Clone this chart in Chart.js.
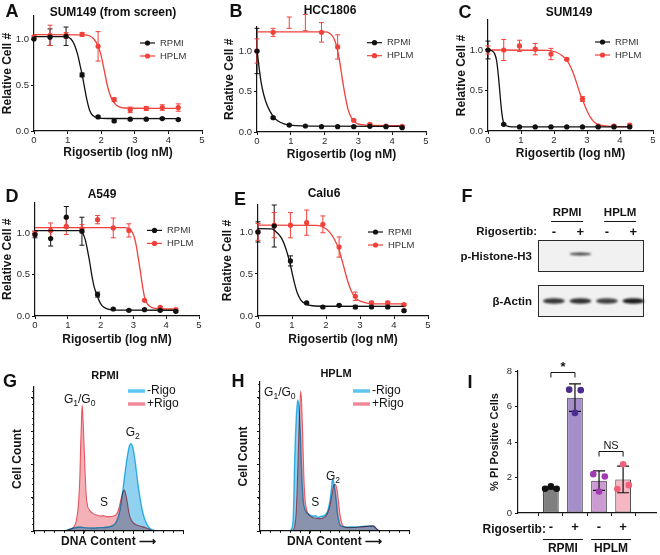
<!DOCTYPE html>
<html>
<head>
<meta charset="utf-8">
<script src="https://cdn.jsdelivr.net/npm/chart.js@4.4.1/dist/chart.umd.min.js"></script>
<style>
  html, body { margin: 0; padding: 0; background: #fff; }
  #fig { position: relative; width: 660px; height: 555px; overflow: hidden; font-family: 'Liberation Sans', Arial, Helvetica, sans-serif; }
  #fig canvas { position: absolute; }
  .lbl { position: absolute; white-space: nowrap; line-height: 1; font-weight: bold; color: #111; transform: translate(-50%, -50%); }
</style>
</head>
<body>
<div id="fig"></div>
<script>
// doses, 3-fold dilution series (log10 nM)
var doseLog = [0, 0.477, 0.954, 1.431, 1.908, 2.386, 2.863, 3.34, 3.817, 4.294];

// A  SUM149 (from screen)
var rpmiA = [1.0, 1.02, 1.03, 0.61, 0.153, 0.11, 0.128, 0.128, 0.135, 0.124];
var rpmiA_sd = [0, 0.09, 0.1, 0.02, 0.01, 0.01, 0.01, 0.01, 0.01, 0.01];
var hplmA = [1.02, 1.04, 1.04, 1.05, 0.92, 0.34, 0.23, 0.245, 0.255, 0.255];
var hplmA_sd = [0.02, 0.11, 0.03, 0.02, 0.16, 0.02, 0.03, 0.02, 0.03, 0.04];
var fitA_rpmi = [[0, 1.025], [0.95, 1.025], [1.1, 1.0], [1.2, 0.94], [1.3, 0.83], [1.38, 0.7], [1.44, 0.6], [1.5, 0.48], [1.58, 0.33], [1.66, 0.22], [1.76, 0.165], [1.9, 0.143], [2.2, 0.136], [4.3, 0.135]];
var fitA_hplm = [[0, 1.047], [1.5, 1.045], [1.65, 1.035], [1.78, 1.0], [1.9, 0.93], [2.0, 0.82], [2.1, 0.64], [2.2, 0.47], [2.3, 0.36], [2.4, 0.3], [2.52, 0.265], [2.7, 0.25], [4.3, 0.245]];

// B  HCC1806
var rpmiB = [1.0, 0.177, 0.086, 0.074, 0.066, 0.066, 0.066, 0.07, 0.066, 0.053];
var rpmiB_sd = [0.28, 0.01, 0.01, 0.005, 0.005, 0.005, 0.005, 0.005, 0.005, 0.005];
var hplmB = [1.0, 1.23, 1.35, 1.35, 1.23, 1.05, 0.144, 0.095, 0.074, 0.07];
var hplmB_sd = [0.15, 0.05, 0.07, 0.1, 0.12, 0.15, 0.01, 0.01, 0.01, 0.01];
var fitB_rpmi = [[0, 1.02], [0.06, 0.8], [0.12, 0.62], [0.2, 0.46], [0.3, 0.33], [0.4, 0.245], [0.5, 0.18], [0.62, 0.135], [0.8, 0.1], [1.0, 0.084], [1.4, 0.075], [2.0, 0.072], [4.3, 0.07]];
var fitB_hplm = [[0, 1.235], [2.0, 1.235], [2.15, 1.22], [2.27, 1.16], [2.36, 1.05], [2.45, 0.86], [2.53, 0.64], [2.62, 0.42], [2.7, 0.27], [2.8, 0.17], [2.92, 0.115], [3.1, 0.09], [3.4, 0.08], [4.3, 0.078]];

// C  SUM149
var rpmiC = [1.0, 0.082, 0.05, 0.05, 0.05, 0.05, 0.05, 0.05, 0.05, 0.05];
var rpmiC_sd = [0.11, 0.01, 0.005, 0.005, 0.005, 0.005, 0.005, 0.005, 0.005, 0.005];
var hplmC = [1.0, 1.0, 1.05, 1.01, 0.95, 0.885, 0.395, 0.06, 0.062, 0.074];
var hplmC_sd = [0.05, 0.13, 0.07, 0.07, 0.07, 0.015, 0.03, 0.01, 0.01, 0.01];
var fitC_rpmi = [[0, 1.0], [0.12, 0.99], [0.2, 0.955], [0.26, 0.87], [0.3, 0.74], [0.34, 0.57], [0.38, 0.38], [0.42, 0.22], [0.46, 0.12], [0.52, 0.075], [0.65, 0.055], [1.0, 0.05], [4.3, 0.05]];
var fitC_hplm = [[0, 1.0], [1.8, 0.995], [2.05, 0.975], [2.25, 0.93], [2.4, 0.87], [2.55, 0.75], [2.68, 0.6], [2.8, 0.45], [2.9, 0.35], [3.0, 0.25], [3.12, 0.16], [3.25, 0.1], [3.45, 0.068], [3.7, 0.057], [4.3, 0.054]];

// D  A549
var rpmiD = [0.99, 0.94, 1.2, 1.03, 0.26, 0.085, 0.069, 0.077, 0.069, 0.057];
var rpmiD_sd = [0.04, 0.09, 0.13, 0.17, 0.03, 0.01, 0.01, 0.01, 0.01, 0.01];
var hplmD = [1.0, 1.04, 1.09, 1.06, 1.17, 1.07, 1.04, 0.19, 0.105, 0.077];
var hplmD_sd = [0.03, 0.09, 0.1, 0.05, 0.05, 0.12, 0.08, 0.01, 0.01, 0.01];
var fitD_rpmi = [[0, 1.036], [1.35, 1.036], [1.45, 1.01], [1.53, 0.93], [1.6, 0.8], [1.67, 0.65], [1.73, 0.5], [1.8, 0.36], [1.9, 0.24], [2.0, 0.15], [2.1, 0.105], [2.25, 0.08], [2.5, 0.072], [4.3, 0.07]];
var fitD_hplm = [[0, 1.073], [2.75, 1.073], [2.9, 1.05], [3.0, 0.99], [3.08, 0.87], [3.15, 0.7], [3.22, 0.52], [3.28, 0.36], [3.34, 0.23], [3.42, 0.15], [3.55, 0.105], [3.8, 0.088], [4.3, 0.085]];

// E  Calu6
var rpmiE = [1.0, 1.07, 0.655, 0.155, 0.107, 0.127, 0.107, 0.107, 0.107, 0.063];
var rpmiE_sd = [0.12, 0.25, 0.06, 0.01, 0.01, 0.01, 0.02, 0.01, 0.01, 0.01];
var hplmE = [1.0, 1.08, 1.08, 1.11, 1.09, 0.82, 0.235, 0.155, 0.155, 0.135];
var hplmE_sd = [0.1, 0.15, 0.15, 0.15, 0.1, 0.12, 0.05, 0.02, 0.02, 0.01];
var fitE_rpmi = [[0, 1.04], [0.4, 1.035], [0.56, 0.99], [0.7, 0.92], [0.82, 0.8], [0.92, 0.66], [1.0, 0.52], [1.08, 0.38], [1.16, 0.27], [1.26, 0.19], [1.4, 0.145], [1.6, 0.122], [2.0, 0.116], [4.3, 0.115]];
var fitE_hplm = [[0, 1.08], [1.7, 1.077], [1.95, 1.05], [2.1, 1.0], [2.25, 0.91], [2.38, 0.79], [2.5, 0.62], [2.62, 0.44], [2.74, 0.3], [2.88, 0.21], [3.05, 0.17], [3.3, 0.148], [4.3, 0.143]];

// F  western blot, band intensity per lane
var media = ['RPMI', 'HPLM'];
var treatLanes = ['-', '+', '-', '+'];
var pH3Band = [0, 0.8, 0, 0];
var actinBand = [0.85, 0.88, 0.8, 0.97];

// G / H  DNA content histograms (channel, count)
var gNoRigoX = [62, 70, 80, 92, 102, 115, 132, 150, 159, 166, 172, 177, 182, 187, 192, 195, 199, 204, 209, 214, 220, 226, 232, 240, 245];
var gNoRigoY = [0, 5, 9, 12, 10, 9, 10, 12, 17, 28, 55, 100, 160, 215, 255, 262, 250, 205, 145, 95, 50, 25, 10, 3, 0];
var gRigoX = [63, 72, 80, 85, 89, 92, 94, 96, 97, 99, 101, 103, 105, 108, 112, 119, 126, 133, 140, 147, 153, 160, 166, 170, 174, 178, 182, 185, 188, 191, 195, 200, 207, 215, 225, 232, 238];
var gRigoY = [0, 5, 12, 30, 73, 150, 260, 350, 377, 330, 250, 174, 110, 75, 62, 52, 48, 45, 46, 43, 43, 45, 50, 63, 88, 112, 123, 108, 85, 55, 35, 24, 18, 14, 10, 5, 0];
var hNoRigoX = [60, 64, 67, 70, 73, 76, 79, 81, 84, 87, 91, 97, 107, 112, 117, 122, 127, 134, 138, 141, 144, 146, 149, 151, 154, 156, 159, 161, 168, 180, 195, 205, 220, 230, 236, 240];
var hNoRigoY = [0, 8, 43, 223, 340, 393, 360, 302, 173, 93, 63, 51, 45, 46, 41, 44, 45, 53, 70, 93, 130, 157, 140, 123, 85, 53, 28, 18, 13, 12, 12, 14, 15, 13, 4, 0];
var hRigoX = [66, 70, 73, 76, 79, 82, 84, 86, 88, 90, 93, 97, 104, 112, 120, 128, 134, 140, 145, 148, 151, 155, 158, 161, 165, 170, 180, 200, 215, 228, 234, 240];
var hRigoY = [0, 15, 60, 180, 330, 420, 380, 290, 180, 110, 70, 52, 42, 38, 37, 40, 48, 70, 110, 135, 140, 125, 90, 50, 22, 12, 10, 12, 14, 16, 8, 0];

// I  % PI positive cells
var meanI = [1.41, 6.5, 1.82, 1.89];
var sdI = [0.06, 0.77, 0.55, 0.75];
var repsI = [[1.37, 1.5, 1.37], [6.95, 5.64, 6.92], [2.19, 1.21, 2.06], [1.35, 2.75, 1.57]];

var FONT = "'Liberation Sans', Arial, Helvetica, sans-serif";
var INK = '#141414';
var BLACK = '#111111';
var RED = '#f0413a';

Chart.defaults.font.family = FONT;
Chart.defaults.color = INK;
Chart.defaults.animation = false;
Chart.defaults.responsive = false;
Chart.defaults.plugins.legend.display = false;
Chart.defaults.plugins.tooltip.enabled = false;

function toXY(xs, ys) {
    return ys.map(function (y, i) { return { x: xs[i], y: y }; });
}
function pairs(p) {
    return p.map(function (d) { return { x: d[0], y: d[1] }; });
}

function addCanvas(b) {
    var c = document.createElement('canvas');
    c.width = b.w;
    c.height = b.h;
    c.style.left = b.x + 'px';
    c.style.top = b.y + 'px';
    document.getElementById('fig').appendChild(c);
    return c;
}

// padding so that the plot area lands on p (page px), with fixed axis box sizes
function framePadding(b, p, yW, xH) {
    return { left: p.l - yW - b.x, top: p.t - b.y, right: b.x + b.w - p.r, bottom: b.y + b.h - p.b - xH };
}

function drawErrors(chart, k) {
    var ds = chart.data.datasets[k];
    var meta = chart.getDatasetMeta(k);
    var ys = chart.scales.y, ctx = chart.ctx;
    var c = ds.capWidth || 2.5;
    ctx.save();
    ctx.strokeStyle = ds.errorColor || ds.borderColor;
    ctx.lineWidth = ds.errorWidth || 1;
    ctx.beginPath();
    meta.data.forEach(function (el, i) {
        var e = ds.errors[i];
        if (!e) return;
        var v = ds.data[i].y;
        var top = ys.getPixelForValue(v + e), bot = ys.getPixelForValue(v - e);
        ctx.moveTo(el.x, top); ctx.lineTo(el.x, bot);
        ctx.moveTo(el.x - c, top); ctx.lineTo(el.x + c, top);
        ctx.moveTo(el.x - c, bot); ctx.lineTo(el.x + c, bot);
    });
    ctx.stroke();
    ctx.restore();
}

var errorBars = {
    id: 'errorBars',
    beforeDatasetsDraw: function (chart) {
        chart.data.datasets.forEach(function (ds, k) {
            if (ds.errors && !ds.errorsOnTop) drawErrors(chart, k);
        });
    },
    afterDatasetDraw: function (chart, args) {
        var ds = chart.data.datasets[args.index];
        if (ds.errors && ds.errorsOnTop) drawErrors(chart, args.index);
    }
};

var insideLegend = {
    id: 'insideLegend',
    afterDraw: function (chart, args, o) {
        if (o.right === undefined) return;
        var ctx = chart.ctx, a = chart.chartArea;
        var items = chart.data.datasets.filter(function (d) { return d.label; });
        ctx.save();
        ctx.font = o.size + 'px ' + FONT;
        ctx.textBaseline = 'middle';
        ctx.textAlign = 'left';
        items.forEach(function (d, i) {
            var x = a.right - o.right, y = a.top + o.top + i * o.step;
            var col = d.legendColor || d.borderColor;
            ctx.strokeStyle = col;
            ctx.lineWidth = o.lineWidth;
            ctx.beginPath();
            ctx.moveTo(x - o.pad - o.len, y);
            ctx.lineTo(x - o.pad, y);
            ctx.stroke();
            if (o.dot) {
                ctx.fillStyle = col;
                ctx.beginPath();
                ctx.arc(x - o.pad - o.len / 2, y, o.dot, 0, 2 * Math.PI);
                ctx.fill();
            }
            ctx.fillStyle = o.color;
            ctx.fillText(d.label, x, y);
        });
        ctx.restore();
    }
};

var minorTicks = {
    id: 'minorTicks',
    afterDraw: function (chart, args, o) {
        if (!o.xStep) return;
        var ctx = chart.ctx, a = chart.chartArea, xs = chart.scales.x, ys = chart.scales.y, v, px;
        ctx.save();
        ctx.strokeStyle = INK;
        ctx.lineWidth = 1;
        ctx.beginPath();
        for (v = xs.min; v <= xs.max + 1e-6; v += o.xStep) {
            px = Math.round(xs.getPixelForValue(v)) + 0.5;
            ctx.moveTo(px, a.bottom); ctx.lineTo(px, a.bottom + o.len);
        }
        for (v = ys.min; v <= ys.max + 1e-6; v += o.yStep) {
            px = Math.round(ys.getPixelForValue(v)) + 0.5;
            ctx.moveTo(a.left, px); ctx.lineTo(a.left - o.len, px);
        }
        ctx.stroke();
        ctx.restore();
    }
};

var multiplyFill = {
    id: 'multiplyFill',
    beforeDatasetsDraw: function (chart, args, o) {
        if (!o.on) return;
        chart.ctx.save();
        chart.ctx.globalCompositeOperation = 'multiply';
    },
    afterDatasetsDraw: function (chart, args, o) {
        if (o.on) chart.ctx.restore();
    }
};

// text with "_1" style subscripts
function richText(ctx, str, x, y, size) {
    var parts = str.split(/(_\d)/).filter(Boolean).map(function (s) {
        return s[0] === '_' ? { t: s.slice(1), sub: true } : { t: s, sub: false };
    });
    var w = 0;
    parts.forEach(function (p) {
        ctx.font = (p.sub ? size * 0.72 : size) + 'px ' + FONT;
        p.w = ctx.measureText(p.t).width;
        w += p.w;
    });
    var cx = x - w / 2;
    ctx.textAlign = 'left';
    ctx.textBaseline = 'middle';
    parts.forEach(function (p) {
        ctx.font = (p.sub ? size * 0.72 : size) + 'px ' + FONT;
        ctx.fillText(p.t, cx, p.sub ? y + size * 0.28 : y);
        cx += p.w;
    });
}

var phaseLabels = {
    id: 'phaseLabels',
    afterDraw: function (chart, args, o) {
        if (!o.items) return;
        var ctx = chart.ctx;
        ctx.save();
        ctx.fillStyle = INK;
        o.items.forEach(function (it) {
            richText(ctx, it.text, chart.scales.x.getPixelForValue(it.x), chart.scales.y.getPixelForValue(it.y), o.size);
        });
        ctx.restore();
    }
};

var blot = {
    id: 'blot',
    afterDraw: function (chart, args, o) {
        if (!o.rows) return;
        var ctx = chart.ctx, a = chart.chartArea, xs = chart.scales.x;
        ctx.save();
        ctx.fillStyle = INK;
        ctx.strokeStyle = INK;
        ctx.font = 'bold 11.5px ' + FONT;
        ctx.textBaseline = 'middle';
        ctx.textAlign = 'center';
        media.forEach(function (m, k) {
            var cx = (xs.getPixelForValue(2 * k) + xs.getPixelForValue(2 * k + 1)) / 2;
            ctx.fillText(m, cx, a.top - 27);
            ctx.lineWidth = 1;
            ctx.beginPath();
            ctx.moveTo(cx - 16, a.top - 18.5);
            ctx.lineTo(cx + 16, a.top - 18.5);
            ctx.stroke();
        });
        ctx.font = 'bold 13px ' + FONT;
        treatLanes.forEach(function (t, i) {
            ctx.fillText(t, xs.getPixelForValue(i), a.top - 8);
        });
        ctx.font = 'bold 11.5px ' + FONT;
        ctx.textAlign = 'right';
        ctx.fillText('Rigosertib:', a.left - 1, a.top - 8);
        o.rows.forEach(function (r, k) {
            var top = k === 0 ? a.top : a.bottom - o.boxH;
            var cy = top + o.boxH / 2;
            ctx.fillStyle = '#f1f1f1';
            ctx.fillRect(a.left, top, a.right - a.left, o.boxH);
            ctx.strokeStyle = '#2a2a2a';
            ctx.lineWidth = 1;
            ctx.strokeRect(a.left + 0.5, top + 0.5, a.right - a.left - 1, o.boxH - 1);
            ctx.fillStyle = INK;
            ctx.textAlign = 'right';
            ctx.fillText(r.label, a.left - 6, cy + 1);
            ctx.save();
            ctx.filter = 'blur(1px)';
            r.bands.forEach(function (v, i) {
                if (!v) return;
                ctx.fillStyle = 'rgba(20,20,20,' + v + ')';
                ctx.beginPath();
                ctx.ellipse(xs.getPixelForValue(i), cy + r.dy, 11, r.h / 2, 0, 0, 2 * Math.PI);
                ctx.fill();
            });
            ctx.restore();
        });
        ctx.restore();
    }
};

var groupNotes = {
    id: 'groupNotes',
    afterDraw: function (chart, args, o) {
        if (!o.brackets) return;
        var ctx = chart.ctx, a = chart.chartArea, xs = chart.scales.x, ys = chart.scales.y;
        ctx.save();
        ctx.fillStyle = INK;
        ctx.strokeStyle = INK;
        ctx.lineWidth = 1;
        ctx.textBaseline = 'middle';
        ctx.font = 'bold 12px ' + FONT;
        ctx.textAlign = 'right';
        ctx.fillText('Rigosertib:', xs.getPixelForValue(0) - 5, a.bottom + 17);
        ctx.textAlign = 'center';
        media.forEach(function (m, k) {
            var cx = xs.getPixelForValue(2 * k + 0.5);
            ctx.beginPath();
            ctx.moveTo(cx - 20, a.bottom + 26.5);
            ctx.lineTo(cx + 20, a.bottom + 26.5);
            ctx.stroke();
            ctx.fillText(m, cx, a.bottom + 36);
        });
        o.brackets.forEach(function (br) {
            var x1 = xs.getPixelForValue(br.from), x2 = xs.getPixelForValue(br.to);
            var y = Math.round(ys.getPixelForValue(br.level)) + 0.5;
            ctx.beginPath();
            ctx.moveTo(x1, y + 5); ctx.lineTo(x1, y); ctx.lineTo(x2, y); ctx.lineTo(x2, y + 5);
            ctx.stroke();
            ctx.font = br.font + 'px ' + FONT;
            ctx.fillText(br.text, (x1 + x2) / 2, y - br.gap);
        });
        ctx.restore();
    }
};

Chart.register(errorBars, insideLegend, minorTicks, multiplyFill, phaseLabels, blot, groupNotes);

function axisLook(extra) {
    var base = {
        grid: { drawOnChartArea: false, color: INK, tickLength: 3, tickWidth: 1 },
        border: { color: INK, width: 1.2 }
    };
    for (var k in extra) base[k] = extra[k];
    return base;
}

function points(label, ys, sd, color) {
    return {
        label: label, data: toXY(doseLog, ys), errors: sd,
        backgroundColor: color, borderColor: color,
        pointRadius: 2.6, pointHoverRadius: 2.6, borderWidth: 0, clip: false
    };
}
function curve(fit, color) {
    return {
        data: pairs(fit), showLine: true, borderColor: color, borderWidth: 1.3,
        pointRadius: 0, cubicInterpolationMode: 'monotone', fill: false, clip: false
    };
}

function doseChart(b, p, yW, xH, yMax, sets, leg) {
    new Chart(addCanvas(b), {
        type: 'scatter',
        data: {
            datasets: [
                points('RPMI', sets[0], sets[1], BLACK),
                curve(sets[2], BLACK),
                points('HPLM', sets[3], sets[4], RED),
                curve(sets[5], RED)
            ]
        },
        options: {
            layout: { padding: framePadding(b, p, yW, xH) },
            scales: {
                x: axisLook({
                    type: 'linear', min: 0, max: 5,
                    afterFit: function (s) { s.height = xH; },
                    ticks: { stepSize: 1, includeBounds: false, padding: 1, font: { size: 9.5 }, color: '#2a2a2a' },
                    title: { display: true, text: 'Rigosertib (log nM)', padding: 0, font: { size: 12, weight: 'bold' }, color: INK }
                }),
                y: axisLook({
                    min: 0, max: yMax,
                    afterFit: function (s) { s.width = yW; },
                    ticks: { stepSize: 0.5, includeBounds: false, padding: 2, font: { size: 9.5 }, color: '#2a2a2a',
                        callback: function (v) { return v.toFixed(1); } },
                    title: { display: true, text: 'Relative Cell #', padding: 0, font: { size: 12, weight: 'bold' }, color: INK }
                })
            },
            plugins: {
                insideLegend: { right: leg[0], top: leg[1], step: 13, len: 15, pad: 5, lineWidth: 1.2, dot: 2.6, size: 9.5, color: '#333' }
            }
        }
    });
}

function histChart(b, p, yMax, blueX, blueY, redX, redY, leg, phases) {
    var yW = 23.2, xH = 18.2;
    new Chart(addCanvas(b), {
        type: 'scatter',
        data: {
            datasets: [
                { label: '-Rigo', data: toXY(blueX, blueY), showLine: true, fill: 'origin',
                  borderColor: '#3fbdee', backgroundColor: '#90d2f0', legendColor: '#5cc6f0',
                  borderWidth: 1.4, pointRadius: 0, cubicInterpolationMode: 'monotone' },
                { label: '+Rigo', data: toXY(redX, redY), showLine: true, fill: 'origin',
                  borderColor: '#ee6470', backgroundColor: '#f4b2b8', legendColor: '#f0889a',
                  borderWidth: 1.1, pointRadius: 0, cubicInterpolationMode: 'monotone' }
            ]
        },
        options: {
            layout: { padding: framePadding(b, p, yW, xH) },
            scales: {
                x: axisLook({
                    type: 'linear', min: 0, max: 300,
                    afterFit: function (s) { s.height = xH; },
                    ticks: { stepSize: 100, includeBounds: false, display: false },
                    title: { display: true, text: 'DNA Content \u27F6', padding: 0, font: { size: 12, weight: 'bold' }, color: INK }
                }),
                y: axisLook({
                    min: 0, max: yMax,
                    afterFit: function (s) { s.width = yW; },
                    ticks: { stepSize: 100, includeBounds: false, display: false },
                    title: { display: true, text: 'Cell Count', padding: 0, font: { size: 12, weight: 'bold' }, color: INK }
                })
            },
            plugins: {
                multiplyFill: { on: true },
                minorTicks: { xStep: 20, yStep: 20, len: 1.8 },
                insideLegend: { right: leg[0], top: leg[1], step: 13, len: 17, pad: 2, lineWidth: 3.5, size: 12, color: INK },
                phaseLabels: { size: 12, items: phases }
            }
        }
    });
}

document.addEventListener('DOMContentLoaded', function () {
    doseChart({ x: 0, y: 0, w: 215, h: 168 }, { l: 34, t: 16, r: 202, b: 131 }, 33.2, 29.2, 1.25,
        [rpmiA, rpmiA_sd, fitA_rpmi, hplmA, hplmA_sd, fitA_hplm], [42, 27]);
    doseChart({ x: 215, y: 0, w: 220, h: 168 }, { l: 257, t: 26.7, r: 426, b: 132 }, 34.2, 30.2, 1.3,
        [rpmiB, rpmiB_sd, fitB_rpmi, hplmB, hplmB_sd, fitB_hplm], [39, 16]);
    doseChart({ x: 440, y: 0, w: 220, h: 168 }, { l: 488, t: 20, r: 653, b: 131 }, 33.2, 30.2, 1.37,
        [rpmiC, rpmiC_sd, fitC_rpmi, hplmC, hplmC_sd, fitC_hplm], [38, 22]);
    doseChart({ x: 0, y: 175, w: 215, h: 180 }, { l: 35, t: 202.4, r: 199, b: 316 }, 35, 31.2, 1.38,
        [rpmiD, rpmiD_sd, fitD_rpmi, hplmD, hplmD_sd, fitD_hplm], [32, 28]);
    doseChart({ x: 215, y: 175, w: 220, h: 180 }, { l: 258, t: 205, r: 428, b: 316 }, 37.2, 31.2, 1.32,
        [rpmiE, rpmiE_sd, fitE_rpmi, hplmE, hplmE_sd, fitE_hplm], [40, 27]);

    // F  blot, lanes placed on a hidden linear scale
    new Chart(addCanvas({ x: 440, y: 175, w: 220, h: 160 }), {
        type: 'scatter',
        data: { datasets: [] },
        options: {
            layout: { padding: { left: 98, right: 16, top: 65, bottom: 18 } },
            scales: {
                x: { type: 'linear', min: -0.6, max: 3.4, display: false },
                y: { min: 0, max: 1, display: false }
            },
            plugins: {
                blot: { boxH: 32, rows: [
                    { label: 'p-Histone-H3', bands: pH3Band, h: 3, dy: -2 },
                    { label: '\u03B2-Actin', bands: actinBand, h: 5.5, dy: 0 }
                ] }
            }
        }
    });

    histChart({ x: 0, y: 350, w: 215, h: 205 }, { l: 34, t: 387, r: 183, b: 531 }, 432,
        gNoRigoX, gNoRigoY, gRigoX, gRigoY, [36, 4], [
            { text: 'G_1/G_0', x: 92, y: 393 },
            { text: 'S', x: 141, y: 84 },
            { text: 'G_2', x: 199, y: 294 }
        ]);
    histChart({ x: 215, y: 350, w: 220, h: 205 }, { l: 260, t: 382, r: 409, b: 531 }, 447,
        hNoRigoX, hNoRigoY, hRigoX, hRigoY, [37, 9], [
            { text: 'G_1/G_0', x: 40, y: 414 },
            { text: 'S', x: 111, y: 84 },
            { text: 'G_2', x: 147, y: 162 }
        ]);

    // I  bars with replicate dots
    var dotColors = ['#111111', '#4a2c8e', '#a13bb0', '#f2607c'];
    var barColors = ['#7f7f7f', '#a48fcb', '#cd9bd3', '#f6b6c4'];
    var dotsI = [], dotColI = [];
    repsI.forEach(function (reps, i) {
        reps.forEach(function (v, j) {
            dotsI.push({ x: i + (j - 1) * 0.24, y: v });
            dotColI.push(dotColors[i]);
        });
    });
    var bI = { x: 440, y: 345, w: 220, h: 210 };
    new Chart(addCanvas(bI), {
        type: 'bar',
        data: {
            datasets: [
                { type: 'scatter', data: dotsI, pointBackgroundColor: dotColI, pointBorderWidth: 0, pointRadius: 3.3, clip: false },
                { type: 'bar', data: toXY([0, 1, 2, 3], meanI), backgroundColor: barColors, borderColor: '#333',
                  borderWidth: 1, borderSkipped: false, barPercentage: 0.65, categoryPercentage: 1,
                  errors: sdI, errorsOnTop: true, errorColor: '#111', capWidth: 6, errorWidth: 1.2 }
            ]
        },
        options: {
            layout: { padding: framePadding(bI, { l: 518, t: 371, r: 657, b: 513 }, 29.6, 42) },
            scales: {
                x: axisLook({
                    type: 'linear', min: -0.65, max: 3.65,
                    afterFit: function (s) { s.height = 42; },
                    ticks: { stepSize: 1, includeBounds: false, padding: 4, font: { size: 13, weight: 'bold' }, color: INK,
                        callback: function (v) { return treatLanes[Math.round(v)]; } }
                }),
                y: axisLook({
                    min: 0, max: 8,
                    afterFit: function (s) { s.width = 29.6; },
                    ticks: { stepSize: 2, padding: 3, font: { size: 9.5 }, color: '#2a2a2a' },
                    title: { display: true, text: '% PI Positive Cells', padding: 0, font: { size: 11, weight: 'bold' }, color: INK }
                })
            },
            plugins: {
                groupNotes: { brackets: [
                    { from: 0, to: 1, level: 7.95, text: '*', font: 'bold 13', gap: 5 },
                    { from: 2, to: 3, level: 3.5, text: 'NS', font: '11', gap: 6 }
                ] }
            }
        }
    });

    // panel letters and titles
    var notes = [
        ['A', 12, 11, 18], ['SUM149 (from screen)', 113, 12, 12],
        ['B', 236, 11, 18], ['HCC1806', 330, 10, 12],
        ['C', 465, 12, 18], ['SUM149', 569, 12, 12],
        ['D', 12, 196, 18], ['A549', 102, 194, 12],
        ['E', 240, 199, 18], ['Calu6', 324, 193, 12],
        ['F', 467, 196, 18],
        ['G', 10, 381, 18], ['RPMI', 105, 375, 11],
        ['H', 238, 381, 18], ['HPLM', 336, 373, 11],
        ['I', 470, 382, 18]
    ];
    var fig = document.getElementById('fig');
    notes.forEach(function (n) {
        var d = document.createElement('div');
        d.className = 'lbl';
        d.textContent = n[0];
        d.style.left = n[1] + 'px';
        d.style.top = n[2] + 'px';
        d.style.fontSize = n[3] + 'px';
        fig.appendChild(d);
    });
});
</script>
</body>
</html>
